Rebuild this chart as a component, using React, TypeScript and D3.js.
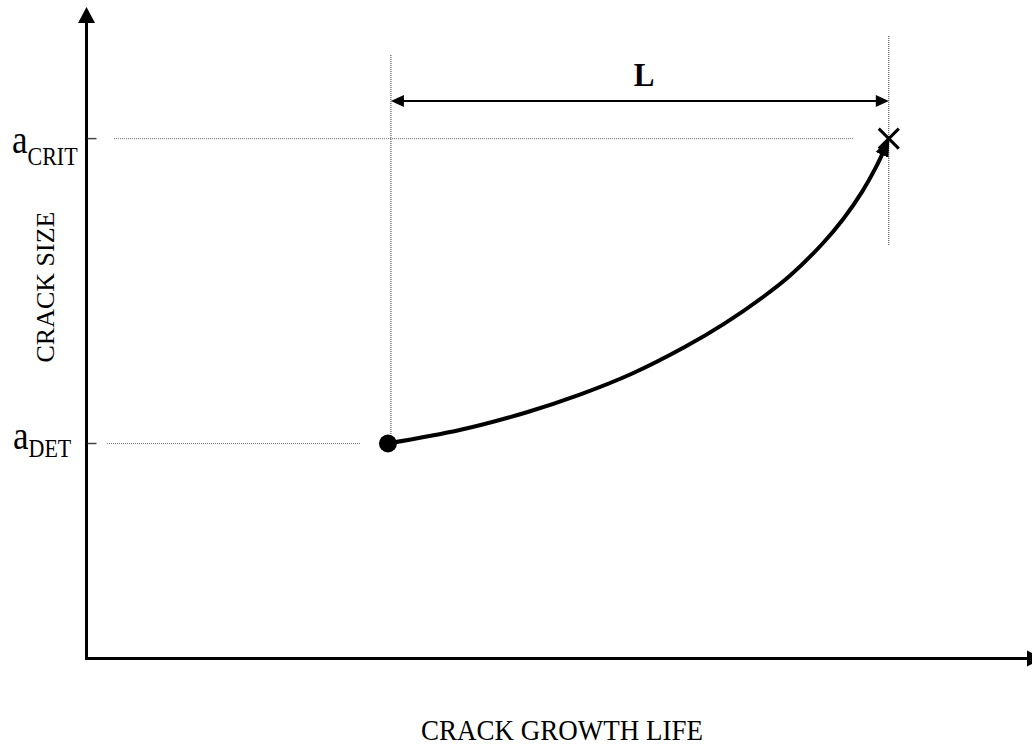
import React, { useEffect, useRef } from 'react';
import * as d3 from 'd3';

// crack growth curve (life %, crack size %)
const lifeValues = [31.9, 39.6, 46.6, 52.2, 57.7, 63.3, 67.5, 71.7, 74.4, 77.9, 80.1, 82.1, 83.5, 84.7];
const crackValues = [33.0, 35.1, 37.8, 40.5, 43.7, 47.8, 51.4, 55.6, 58.7, 63.7, 67.5, 71.7, 75.3, 79.0];

// the two marked crack sizes
const markNames = ['DET', 'CRIT'];
const markSizes = [33.0, 79.8];
const markLives = [32.0, 84.9];

const xTitle = 'CRACK GROWTH LIFE';
const yTitle = 'CRACK SIZE';
const spanLabel = 'L';

const FONT = '"Liberation Serif", "Times New Roman", Times, serif';

export default function App() {
	const ref = useRef<SVGSVGElement>(null);

	useEffect(() => {
		const svg = d3.select(ref.current);
		svg.selectAll('*').remove();

		const x = d3.scaleLinear().domain([0, 100]).range([86.5, 1031.5]);
		const y = d3.scaleLinear().domain([0, 100]).range([658.5, 7]);

		const x0 = x(0);
		const y0 = y(0);

		svg.append('defs').append('marker')
			.attr('id', 'curveHead')
			.attr('markerUnits', 'userSpaceOnUse')
			.attr('viewBox', '0 -8 18 16')
			.attr('markerWidth', 18)
			.attr('markerHeight', 16)
			.attr('refX', 12)
			.attr('refY', 0)
			.attr('orient', 'auto')
			.append('path')
			.attr('d', 'M0,-7L18,0L0,7Z')
			.attr('fill', '#000');

		// dotted guide lines
		const dot = svg.append('g')
			.attr('fill', 'none')
			.attr('stroke-width', 1)
			.attr('stroke-dasharray', '1 1');

		const xDet = x(markLives[0]);
		const xCrit = x(markLives[1]);
		const yDet = y(markSizes[0]);
		const yCrit = y(markSizes[1]);

		dot.append('line').attr('x1', 107).attr('x2', 360).attr('y1', yDet).attr('y2', yDet).attr('stroke', '#777');
		dot.append('line').attr('x1', 114).attr('x2', 853).attr('y1', yCrit).attr('y2', yCrit).attr('stroke', '#777');
		dot.append('line').attr('x1', xDet + 2).attr('x2', xDet + 2).attr('y1', 55).attr('y2', yDet - 8).attr('stroke', '#333');
		dot.append('line').attr('x1', xCrit).attr('x2', xCrit).attr('y1', 36).attr('y2', 245).attr('stroke', '#333');

		// axes with arrowheads
		svg.append('line')
			.attr('x1', x0).attr('x2', x0)
			.attr('y1', y0 + 1.5).attr('y2', 20)
			.attr('stroke', '#000').attr('stroke-width', 3);
		svg.append('path')
			.attr('d', `M${x0},${y(100)}L${x0 - 8.5},23L${x0 + 8.5},23Z`)
			.attr('fill', '#000');

		svg.append('line')
			.attr('x1', x0 - 1.5).attr('x2', 1030)
			.attr('y1', y0).attr('y2', y0)
			.attr('stroke', '#000').attr('stroke-width', 3);
		svg.append('path')
			.attr('d', `M1043,${y0}L1027,${y0 - 8}L1027,${y0 + 8}Z`)
			.attr('fill', '#000');

		// ticks on the size axis
		markSizes.forEach(function (s) {
			svg.append('line')
				.attr('x1', x0 + 1).attr('x2', x0 + 10)
				.attr('y1', y(s)).attr('y2', y(s))
				.attr('stroke', '#444').attr('stroke-width', 1.5);
		});

		// size labels a_DET, a_CRIT (the original text is a little stretched upright)
		const labelPos = [
			{ x: 13, y: 449, dy: 7 },
			{ x: 12, y: 153, dy: 10 }
		];
		markNames.forEach(function (name, i) {
			const t = svg.append('g')
				.attr('transform', `translate(${labelPos[i].x},${labelPos[i].y}) scale(1,1.15)`)
				.append('text')
				.attr('font-family', FONT)
				.attr('font-size', 35)
				.text('a');
			t.append('tspan')
				.attr('dy', labelPos[i].dy)
				.attr('font-size', 22)
				.text(name);
		});

		// growth curve
		const line = d3.line<number>()
			.x(function (d, i) { return x(lifeValues[i]); })
			.y(function (d) { return y(d); })
			.curve(d3.curveCatmullRom.alpha(0.5));

		svg.append('path')
			.datum(crackValues)
			.attr('d', line)
			.attr('fill', 'none')
			.attr('stroke', '#000')
			.attr('stroke-width', 4)
			.attr('marker-end', 'url(#curveHead)');

		svg.append('circle')
			.attr('cx', x(lifeValues[0]))
			.attr('cy', y(crackValues[0]))
			.attr('r', 9)
			.attr('fill', '#000');

		// critical point cross
		const c = 10;
		svg.append('path')
			.attr('d', `M${xCrit - c},${yCrit - c}L${xCrit + c},${yCrit + c}M${xCrit - c},${yCrit + c}L${xCrit + c},${yCrit - c}`)
			.attr('stroke', '#000')
			.attr('stroke-width', 3);

		// L dimension arrow
		const ly = 101;
		const l1 = xDet + 2;
		const l2 = xCrit;
		svg.append('line')
			.attr('x1', l1 + 6).attr('x2', l2 - 6)
			.attr('y1', ly).attr('y2', ly)
			.attr('stroke', '#000').attr('stroke-width', 2);
		svg.append('path')
			.attr('d', `M${l1},${ly}L${l1 + 13},${ly - 6}L${l1 + 13},${ly + 6}Z M${l2},${ly}L${l2 - 13},${ly - 6}L${l2 - 13},${ly + 6}Z`)
			.attr('fill', '#000');

		svg.append('g')
			.attr('transform', 'translate(644,86) scale(1,1.08)')
			.append('text')
			.attr('text-anchor', 'middle')
			.attr('font-family', FONT)
			.attr('font-weight', 'bold')
			.attr('font-size', 31)
			.text(spanLabel);

		// axis titles
		svg.append('g')
			.attr('transform', 'translate(562,740) scale(1,1.08)')
			.append('text')
			.attr('text-anchor', 'middle')
			.attr('font-family', FONT)
			.attr('font-size', 27)
			.text(xTitle);

		svg.append('text')
			.attr('transform', 'translate(54,287) rotate(-90)')
			.attr('text-anchor', 'middle')
			.attr('font-family', FONT)
			.attr('font-size', 26)
			.text(yTitle);
	}, []);

	return (
		<svg
			ref={ref}
			width={1032}
			height={746}
			style={{ position: 'absolute', left: 0, top: 0, display: 'block', background: '#fff' }}
		/>
	);
}
